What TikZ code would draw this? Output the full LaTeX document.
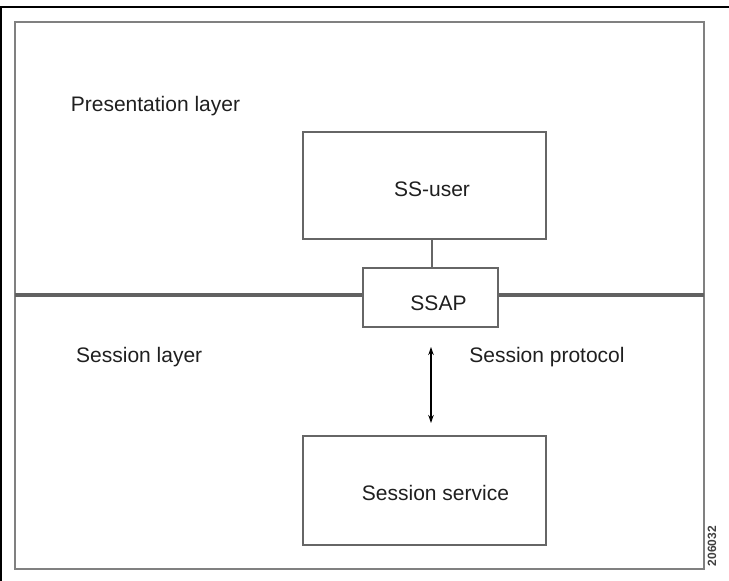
\documentclass[tikz,border=0pt]{standalone}
\usepackage{fontspec}
\setmainfont{Liberation Sans}
\usetikzlibrary{arrows.meta}
\begin{document}
\begin{tikzpicture}[x=1pt,y=-1pt,
  lbl/.style={inner sep=0pt,font=\fontsize{21}{24}\selectfont,text=black!88},
  boxline/.style={draw=black!60,line width=1.2pt},
  frameline/.style={draw=black!50,line width=1.8pt},
  layerline/.style={draw=black!62,line width=3.2pt}]
\useasboundingbox (0,0) rectangle (729,581);
% outer black border (top and left)
\draw[line width=2pt] (0,7) -- (729,7);
\draw[line width=2pt] (1,7) -- (1,581);
% inner frame
\draw[frameline] (15,22) rectangle (704,569);
% boxes
\node[boxline,minimum width=243,minimum height=107,inner sep=0pt] (ssuser) at (424.5,185.5) {};
\node[boxline,minimum width=135,minimum height=59,inner sep=0pt] (ssap) at (430.5,297.5) {};
\node[boxline,minimum width=243,minimum height=109,inner sep=0pt] (sserv) at (424.5,490.5) {};
% layer separator
\coordinate (lL) at (15,295);
\coordinate (lR) at (704,295);
\draw[layerline] (lL) -- (ssap.west |- lL);
\draw[layerline] (ssap.east |- lR) -- (lR);
% connector
\draw[boxline] (ssuser.south -| 432,0) -- (ssap.north -| 432,0);
% arrow
\coordinate (aT) at (431,347);
\coordinate (aB) at (431,423);
\draw[line width=1.1pt,{Stealth[length=8pt,width=5.5pt]}-{Stealth[length=8pt,width=5.5pt]}] (aT) -- (aB);
% texts
\node[lbl] (tuser) at (432,189) {SS-user};
\node[lbl] (tssap) at (438.5,303) {SSAP};
\node[lbl] (tserv) at (435.5,493) {Session service};
\node[lbl] (tpres) at (155.5,106) {Presentation layer};
\node[lbl,anchor=west] (tsess) at (76,357) {Session layer};
\node[lbl] (tprot) at (547,357) {Session protocol};
\node[inner sep=0pt,font=\fontsize{12}{13}\selectfont\bfseries,text=black!75,rotate=90] (tid) at (712,546) {206032};
\end{tikzpicture}
\end{document}
